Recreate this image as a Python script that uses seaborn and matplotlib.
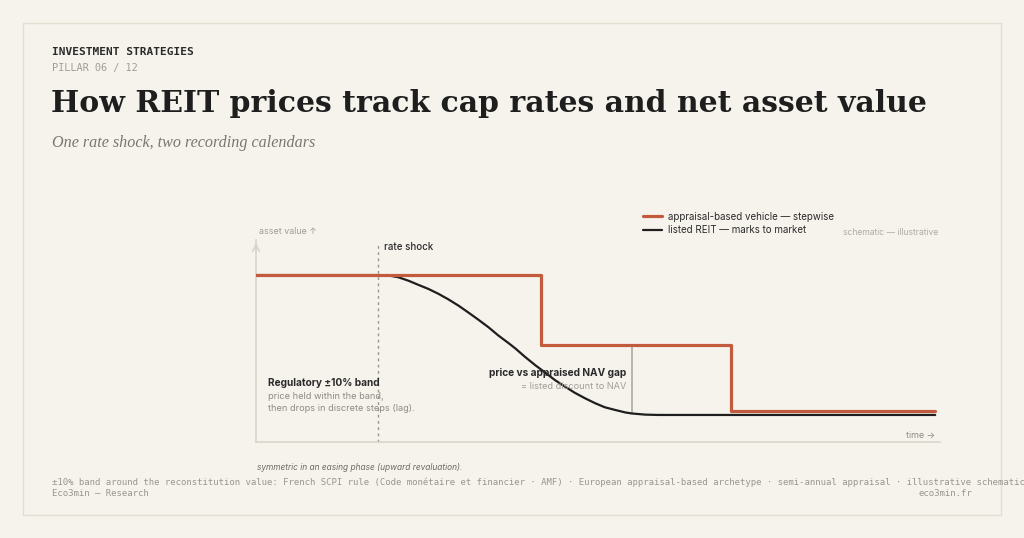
import numpy as np
import pandas as pd
import seaborn as sns
import matplotlib.pyplot as plt
import matplotlib.patches as patches
from matplotlib.lines import Line2D

# schematic time axis 0-100, asset value index (pre-shock level = 100)
shock_t = 17.8
gap_t = 54.9

# appraisal-based vehicle: stepwise revaluations
step_t = [0.0, 41.7, 69.4, 99.3]
step_v = [100.0, 58.1, 18.6, 18.6]

# listed REIT: marks to market after the shock
reit_t = [0.0, 17.9, 19.3, 20.8, 22.3, 23.7, 25.2, 26.7, 28.1, 29.6, 31.0,
          32.5, 34.0, 35.4, 36.9, 37.9, 39.3, 40.8, 42.3, 43.7, 45.2, 46.6,
          48.1, 49.6, 51.0, 52.5, 54.0, 54.9, 56.9, 58.8, 99.3]
reit_v = [100.0, 100.0, 99.8, 98.7, 96.6, 94.2, 91.7, 88.7, 85.5, 81.7, 77.7,
          73.3, 68.7, 63.9, 59.3, 56.1, 51.1, 46.1, 41.5, 37.1, 33.1, 29.5,
          26.2, 23.2, 20.8, 19.2, 17.7, 17.1, 16.4, 16.2, 16.2]

# gap marker (appraised NAV vs listed price at gap_t)
gap_v = [17.1, 58.1]

bg = "#f6f3ed"
orange = "#c25a3d"
ink = "#1e1e1e"
grey = "#8f8b83"

sns.set_theme(style="white")
plt.rcParams["font.family"] = ["Inter", "DejaVu Sans"]

fig = plt.figure(figsize=(10.24, 5.38), dpi=100, facecolor=bg)

# card
card = patches.Rectangle((23 / 1024, 1 - 515 / 538), 978 / 1024, 492 / 538,
                         transform=fig.transFigure, facecolor=bg,
                         edgecolor="#e2ded0", linewidth=1, zorder=-10)
fig.patches.append(card)

ax = fig.add_axes([256 / 1024, (538 - 442) / 538, (940 - 256) / 1024, (442 - 240) / 538])
ax.set_facecolor("none")
ax.set_zorder(2)

df_reit = pd.DataFrame({"t": reit_t, "v": reit_v})
df_step = pd.DataFrame({"t": step_t, "v": step_v})

sns.lineplot(data=df_reit, x="t", y="v", ax=ax, color=ink, linewidth=1.6,
             estimator=None, sort=False, zorder=3)
sns.lineplot(data=df_step, x="t", y="v", ax=ax, color=orange, linewidth=2.3,
             estimator=None, sort=False, drawstyle="steps-post", zorder=4)

# gap line and rate shock marker
ax.plot([gap_t, gap_t], gap_v, color="#a8a49c", linewidth=1.1, zorder=2)
ax.plot([shock_t, shock_t], [0, 119], color="#9a968e", linewidth=1.0,
        linestyle=(0, (2, 2.5)), zorder=2, clip_on=False)

ax.set_xlim(0, 100)
ax.set_ylim(0, 121)
ax.set_xticks([])
ax.set_yticks([])
ax.set_xlabel("")
ax.set_ylabel("")
for s in ["top", "right"]:
    ax.spines[s].set_visible(False)
for s in ["left", "bottom"]:
    ax.spines[s].set_color("#d9d5cb")
    ax.spines[s].set_linewidth(1.2)
ax.annotate("", xy=(0, 1.0), xytext=(0, 0.93), xycoords="axes fraction",
            arrowprops=dict(arrowstyle="->", color="#d9d5cb", lw=1.2))

# axis captions
ax.text(0.5, 125.8, "asset value ↑", fontsize=6.4, color="#a19d95", va="center", clip_on=False)
ax.text(99.3, 4.2, "time →", fontsize=6.4, color="#8f8b83", ha="right", va="center")
ax.text(18.7, 116.8, "rate shock", fontsize=7, color="#2a2a2a", fontweight="medium", va="center")
ax.text(99.7, 125.2, "schematic — illustrative", fontsize=6.2, color="#b0aba2",
        ha="right", va="center", clip_on=False)

# annotations
ax.text(1.75, 35.3, "Regulatory ±10% band", fontsize=7.3, color="#2a2a2a",
        fontweight="bold", va="center")
ax.text(1.75, 27.0, "price held within the band,", fontsize=6.6, color=grey, va="center")
ax.text(1.75, 19.8, "then drops in discrete steps (lag).", fontsize=6.6, color=grey, va="center")
ax.text(0.1, -15.0, "symmetric in an easing phase (upward revaluation).", fontsize=6.0,
        color="#6f6b64", style="italic", va="center", clip_on=False)
ax.text(54.1, 41.3, "price vs appraised NAV gap", fontsize=7.3, color="#2a2a2a",
        fontweight="bold", ha="right", va="center")
ax.text(54.1, 33.5, "= listed discount to NAV", fontsize=6.6, color="#a19d95",
        ha="right", va="center")

# legend
handles = [Line2D([], [], color=orange, linewidth=2.3),
           Line2D([], [], color=ink, linewidth=1.6)]
labels = ["appraisal-based vehicle — stepwise", "listed REIT — marks to market"]
leg = fig.legend(handles, labels, loc="upper left",
                 bbox_to_anchor=(638 / 1024, 1 - 207 / 538), frameon=False,
                 fontsize=7, handlelength=2.0, handletextpad=0.6,
                 labelspacing=0.35, borderpad=0)
for t in leg.get_texts():
    t.set_color("#2a2a2a")

# header
mono = ["DejaVu Sans Mono"]
fig.text(52 / 1024, 1 - 52 / 538, "INVESTMENT STRATEGIES", family=mono, fontsize=8.0,
         fontweight="bold", color="#2a2a2a", va="center")
fig.text(52 / 1024, 1 - 68 / 538, "PILLAR 06 / 12", family=mono, fontsize=7.4,
         color="#a19d95", va="center")
fig.text(51 / 1024, 1 - 104 / 538, "How REIT prices track cap rates and net asset value",
         family=["DejaVu Serif"], fontsize=21.5, fontweight="bold", color="#1e1e1e",
         va="center")
fig.text(52 / 1024, 1 - 143 / 538, "One rate shock, two recording calendars",
         family=["Liberation Serif"], fontsize=11.6, style="italic", color="#7a766f",
         va="center")

# footer
fig.text(52 / 1024, 1 - 482 / 538,
         "±10% band around the reconstitution value: French SCPI rule (Code monétaire et financier · AMF)"
         " · European appraisal-based archetype · semi-annual appraisal · illustrative schematic",
         family=mono, fontsize=6.45, color="#9a968e", va="center")
fig.text(52 / 1024, 1 - 493 / 538, "Eco3min — Research", family=mono, fontsize=6.45,
         color="#9a968e", va="center")
fig.text(972 / 1024, 1 - 493 / 538, "eco3min.fr", family=mono, fontsize=6.45,
         color="#9a968e", va="center", ha="right")

plt.savefig("out.png", dpi=100, facecolor=bg)
plt.close()
